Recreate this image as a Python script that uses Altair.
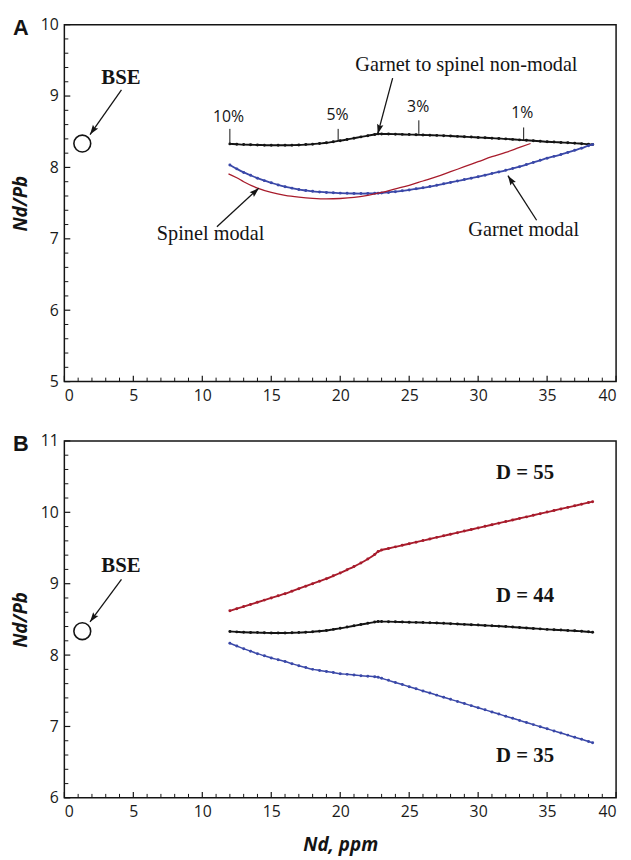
import math
import altair as alt
import pandas as pd

# ---------------- data ----------------
ND_GRID = [12.0, 12.5, 13.0, 13.5, 14.0, 14.5, 15.0, 15.5, 16.0, 16.5, 17.0, 17.5,
           18.0, 18.5, 19.0, 19.5, 20.0, 20.5, 21.0, 21.5, 22.0, 22.5, 22.75,
           23.0, 23.5, 24.0, 24.5, 25.0, 25.5, 26.0, 26.5, 27.0, 27.5, 28.0, 28.5,
           29.0, 29.5, 30.0, 30.5, 31.0, 31.5, 32.0, 32.5, 33.0, 33.5, 34.0, 34.5,
           35.0, 35.5, 36.0, 36.5, 37.0, 37.5, 38.0, 38.3]

# Garnet to spinel non-modal (D = 44)
NONMODAL = [8.330, 8.325, 8.320, 8.317, 8.315, 8.312, 8.310, 8.310, 8.310, 8.312, 8.315, 8.320,
            8.326, 8.335, 8.345, 8.360, 8.375, 8.392, 8.410, 8.428, 8.445, 8.462, 8.470,
            8.469, 8.468, 8.466, 8.463, 8.460, 8.458, 8.455, 8.452, 8.449, 8.445, 8.440, 8.435,
            8.430, 8.425, 8.420, 8.415, 8.410, 8.405, 8.400, 8.393, 8.386, 8.380, 8.373, 8.367,
            8.360, 8.355, 8.350, 8.345, 8.340, 8.333, 8.326, 8.320]

# Garnet modal (panel A, blue)
GARNET_MODAL = [8.035, 7.980, 7.930, 7.890, 7.850, 7.815, 7.785, 7.755, 7.730, 7.710, 7.690, 7.677,
                7.665, 7.657, 7.650, 7.645, 7.640, 7.637, 7.635, 7.634, 7.635, 7.637, 7.639,
                7.642, 7.650, 7.660, 7.672, 7.685, 7.700, 7.715, 7.732, 7.750, 7.770, 7.790, 7.810,
                7.830, 7.850, 7.870, 7.892, 7.915, 7.937, 7.960, 7.985, 8.010, 8.040, 8.070, 8.100,
                8.130, 8.155, 8.180, 8.210, 8.240, 8.270, 8.305, 8.320]

# Spinel modal (panel A, thin red)
SPINEL_ND = [11.9, 12.5, 13.0, 14.0, 15.0, 16.0, 17.0, 18.0, 19.0, 20.0, 21.0, 22.0,
             23.0, 24.0, 25.0, 26.0, 27.0, 28.0, 29.0, 30.0, 31.0, 32.0, 33.0, 33.8]
SPINEL_MODAL = [7.910, 7.855, 7.800, 7.710, 7.650, 7.610, 7.585, 7.568, 7.560, 7.565, 7.580, 7.610,
                7.650, 7.700, 7.750, 7.810, 7.870, 7.940, 8.010, 8.080, 8.150, 8.210, 8.280, 8.335]

# Panel B: D = 55 (red) and D = 35 (blue)
D55 = [8.620, 8.650, 8.680, 8.710, 8.740, 8.770, 8.800, 8.830, 8.860, 8.895, 8.930, 8.965,
       9.000, 9.035, 9.070, 9.110, 9.150, 9.195, 9.240, 9.290, 9.345, 9.410, 9.450,
       9.471, 9.493, 9.516, 9.538, 9.560, 9.582, 9.604, 9.626, 9.649, 9.671, 9.693, 9.715,
       9.737, 9.759, 9.781, 9.804, 9.826, 9.848, 9.870, 9.892, 9.914, 9.936, 9.959, 9.981,
       10.003, 10.025, 10.047, 10.069, 10.091, 10.114, 10.136, 10.149]
D35 = [8.165, 8.128, 8.090, 8.055, 8.020, 7.990, 7.960, 7.935, 7.910, 7.880, 7.850, 7.825,
       7.800, 7.785, 7.770, 7.755, 7.740, 7.730, 7.720, 7.712, 7.705, 7.697, 7.690,
       7.675, 7.646, 7.616, 7.587, 7.557, 7.528, 7.498, 7.469, 7.439, 7.410, 7.380, 7.351,
       7.321, 7.292, 7.262, 7.233, 7.203, 7.174, 7.144, 7.115, 7.085, 7.056, 7.026, 6.997,
       6.967, 6.938, 6.908, 6.879, 6.849, 6.820, 6.790, 6.772]

BSE_ND = [1.3]
BSE_RATIO = [8.335]

X_TICKS = [0, 5, 10, 15, 20, 25, 30, 35, 40]
Y_TICKS_A = [5, 6, 7, 8, 9, 10]
Y_TICKS_B = [6, 7, 8, 9, 10, 11]

# annotations (data coordinates)
A_BOLD = ["BSE"]
A_BOLD_X = [4.1]
A_BOLD_Y = [9.25]
A_SERIF = ["Garnet to spinel non-modal", "Spinel modal", "Garnet modal"]
A_SERIF_X = [29.15, 10.6, 33.3]
A_SERIF_Y = [9.44, 7.06, 7.12]
PCT = ["10%", "5%", "3%", "1%"]
PCT_X = [11.9, 19.8, 25.65, 33.2]
PCT_Y = [8.70, 8.73, 8.84, 8.76]
PCT_TICK_X = [12.0, 19.85, 25.7, 33.3]
PCT_TICK_Y1 = [8.54, 8.54, 8.66, 8.56]
PCT_TICK_Y2 = [8.33, 8.37, 8.47, 8.38]
A_ARROW_X = [4.14, 23.8, 11.06, 34.24]
A_ARROW_Y = [9.086, 9.25, 7.17, 7.26]
A_ARROW_X2 = [1.86, 22.72, 14.1, 32.16]
A_ARROW_Y2 = [8.46, 8.47, 7.71, 7.885]

B_BOLD = ["BSE", "D = 55", "D = 44", "D = 35"]
B_BOLD_X = [4.1, 33.4, 33.4, 33.4]
B_BOLD_Y = [9.25, 10.55, 8.82, 6.59]
B_ARROW_X = [4.14]
B_ARROW_Y = [9.06]
B_ARROW_X2 = [1.86]
B_ARROW_Y2 = [8.465]

# ---------------- styling ----------------
W, H = 558, 361
BLACK = "#141414"
BLUE = "#3a48a8"
RED = "#a81c2c"
SERIF = "Liberation Serif"
SANS = "Open Sans"
HEAD = "M0,0L-0.5,1.5L0,1.25L0.5,1.5Z"


def make_panel(ymin, ymax, y_ticks, lines, bold, serif, pct, arrows, letter, xtitle):
    xs = alt.Scale(domain=[0, 40], nice=False, zero=False)
    ys = alt.Scale(domain=[ymin, ymax], nice=False, zero=False)
    xaxis = alt.Axis(values=X_TICKS, ticks=False, domain=False, grid=False,
                     labelPadding=6, title=xtitle if xtitle else "", titlePadding=16)
    yaxis = alt.Axis(values=y_ticks, ticks=False, domain=False, grid=False,
                     labelPadding=6, title="Nd/Pb", titlePadding=10)

    def X(f):
        return alt.X(f, scale=xs, axis=xaxis)

    def Y(f):
        return alt.Y(f, scale=ys, axis=yaxis)

    layers = []
    for xv, yv, color, sw, pts in lines:
        df = pd.DataFrame({"nd": xv, "r": yv})
        kw = {}
        if pts:
            kw["point"] = alt.OverlayMarkDef(filled=True, size=9, color=color)
        layers.append(alt.Chart(df).mark_line(color=color, strokeWidth=sw,
                                              interpolate="monotone", **kw)
                      .encode(x=X("nd:Q"), y=Y("r:Q")))
    # inward ticks
    xmaj = pd.DataFrame({"nd": X_TICKS})
    xmin_df = pd.DataFrame({"nd": [v for v in range(1, 40) if v % 5 != 0]})
    ymaj = pd.DataFrame({"r": y_ticks})
    ymin_df = pd.DataFrame({"r": [round(ymin + 0.2 * i, 1) for i in range(1, 25) if i % 5 != 0]})
    layers.append(alt.Chart(xmaj).mark_rule(color=BLACK, strokeWidth=1.2).encode(
        x=X("nd:Q"), y=alt.value(H), y2=alt.value(H - 6)))
    layers.append(alt.Chart(xmin_df).mark_rule(color=BLACK, strokeWidth=1).encode(
        x=X("nd:Q"), y=alt.value(H), y2=alt.value(H - 4)))
    layers.append(alt.Chart(ymaj).mark_rule(color=BLACK, strokeWidth=1.2).encode(
        y=Y("r:Q"), x=alt.value(0), x2=alt.value(6)))
    layers.append(alt.Chart(ymin_df).mark_rule(color=BLACK, strokeWidth=1).encode(
        y=Y("r:Q"), x=alt.value(0), x2=alt.value(4)))
    # BSE circle
    layers.append(alt.Chart(pd.DataFrame({"nd": BSE_ND, "r": BSE_RATIO})).mark_point(
        shape="circle", size=290, filled=False, color=BLACK, strokeWidth=1.6, opacity=1).encode(
        x=X("nd:Q"), y=Y("r:Q")))
    # arrows
    ax, ay, ax2, ay2 = arrows
    adf = pd.DataFrame({"nd": ax, "r": ay, "nd2": ax2, "r2": ay2})
    sx = W / 40.0
    sy = H / float(ymax - ymin)
    adf["ang"] = [
        math.degrees(math.atan2((b - a) * sx, (d - c) * sy)) % 360
        for a, b, c, d in zip(adf["nd"], adf["nd2"], adf["r"], adf["r2"])
    ]
    layers.append(alt.Chart(adf).mark_rule(color=BLACK, strokeWidth=1.3).encode(
        x=X("nd:Q"), y=Y("r:Q"), x2="nd2:Q", y2="r2:Q"))
    hdf = pd.DataFrame({"nd": adf["nd2"], "r": adf["r2"], "ang": adf["ang"]})
    layers.append(alt.Chart(hdf).mark_point(shape=HEAD, size=170, filled=True,
                                            color=BLACK, opacity=1, strokeWidth=0).encode(
        x=X("nd:Q"), y=Y("r:Q"), angle=alt.Angle("ang:Q", scale=None)))
    # texts
    bt, bx, by = bold
    layers.append(alt.Chart(pd.DataFrame({"t": bt, "nd": bx, "r": by})).mark_text(
        font=SERIF, fontWeight="bold", fontSize=21, color=BLACK, baseline="middle").encode(
        x=X("nd:Q"), y=Y("r:Q"), text="t:N"))
    if serif:
        st, sxv, syv = serif
        layers.append(alt.Chart(pd.DataFrame({"t": st, "nd": sxv, "r": syv})).mark_text(
            font=SERIF, fontSize=20.5, color=BLACK, baseline="middle").encode(
            x=X("nd:Q"), y=Y("r:Q"), text="t:N"))
    if pct:
        pt, px, py, tx, ty1, ty2 = pct
        layers.append(alt.Chart(pd.DataFrame({"t": pt, "nd": px, "r": py})).mark_text(
            font=SANS, fontSize=16, color=BLACK, baseline="middle").encode(
            x=X("nd:Q"), y=Y("r:Q"), text="t:N"))
        layers.append(alt.Chart(pd.DataFrame({"nd": tx, "r": ty1, "r2": ty2})).mark_rule(
            color=BLACK, strokeWidth=1).encode(
            x=X("nd:Q"), y=Y("r:Q"), y2="r2:Q"))
    # panel letter
    layers.append(alt.Chart(pd.DataFrame({"t": [letter]})).mark_text(
        font="Liberation Sans", fontWeight="bold", fontSize=22, color=BLACK,
        baseline="middle", align="center").encode(
        text="t:N", x=alt.value(-44), y=alt.value(3)))
    return alt.layer(*layers).properties(width=W, height=H)


top = make_panel(
    5, 10, Y_TICKS_A,
    [(ND_GRID, NONMODAL, BLACK, 1.9, True),
     (ND_GRID, GARNET_MODAL, BLUE, 1.8, True),
     (SPINEL_ND, SPINEL_MODAL, RED, 1.3, False)],
    (A_BOLD, A_BOLD_X, A_BOLD_Y),
    (A_SERIF, A_SERIF_X, A_SERIF_Y),
    (PCT, PCT_X, PCT_Y, PCT_TICK_X, PCT_TICK_Y1, PCT_TICK_Y2),
    (A_ARROW_X, A_ARROW_Y, A_ARROW_X2, A_ARROW_Y2),
    "A", None)

bottom = make_panel(
    6, 11, Y_TICKS_B,
    [(ND_GRID, D55, RED, 1.9, True),
     (ND_GRID, NONMODAL, BLACK, 1.9, True),
     (ND_GRID, D35, BLUE, 1.5, True)],
    (B_BOLD, B_BOLD_X, B_BOLD_Y),
    None, None,
    (B_ARROW_X, B_ARROW_Y, B_ARROW_X2, B_ARROW_Y2),
    "B", "Nd, ppm")

chart = alt.vconcat(top, bottom, spacing=60, bounds="flush").configure(
    padding={"left": 2, "top": 3, "right": 5, "bottom": 0}
).configure_view(
    stroke=BLACK, strokeWidth=1.5
).configure_axis(
    labelFont=SANS, labelFontSize=16, labelColor="#1a1a1a",
    titleFont=SANS, titleFontSize=19, titleFontWeight="bold", titleFontStyle="italic",
    titleColor=BLACK
)

chart.save("out.html", embed_options={"renderer": "svg", "actions": False})
